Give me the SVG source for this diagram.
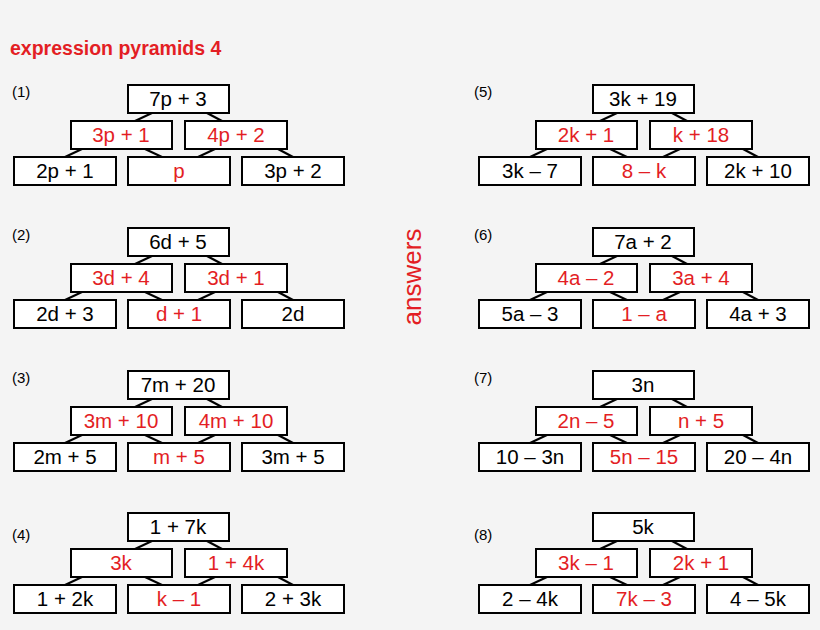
<svg xmlns="http://www.w3.org/2000/svg" width="820" height="630" viewBox="0 0 820 630">
<style>
.b{fill:#fff;stroke:#000;stroke-width:2}
.c line{stroke:#000;stroke-width:2}
text{font-family:"Liberation Sans",Arial,sans-serif;font-size:20.5px;text-anchor:middle}
.r{fill:#e31e24}.k{fill:#000}
.n{font-size:15px;text-anchor:start}
</style>
<rect width="820" height="630" fill="#f4f4f4"/>
<text x="10" y="55" style="text-anchor:start;font-weight:bold;font-size:19.5px" class="r">expression pyramids 4</text>
<text transform="translate(421,277) rotate(-90)" class="r" style="font-size:26px">answers</text>
<defs>
<g id="conn" class="c">
<line x1="152" y1="113" x2="135" y2="121"/><line x1="207" y1="113" x2="222" y2="121"/>
<line x1="82" y1="149" x2="65" y2="157"/><line x1="145" y1="149" x2="162" y2="157"/>
<line x1="215" y1="149" x2="198" y2="157"/><line x1="278" y1="149" x2="293" y2="157"/>
</g>
<g id="boxes">
<rect class="b" x="128" y="85" width="101" height="28"/>
<rect class="b" x="71" y="121" width="101" height="28"/><rect class="b" x="185" y="121" width="102" height="28"/>
<rect class="b" x="14" y="157" width="102" height="28"/><rect class="b" x="128" y="157" width="102" height="28"/><rect class="b" x="242" y="157" width="102" height="28"/>
</g>
</defs>
<g id="connectors">
<use href="#conn"/><use href="#conn" y="143"/><use href="#conn" y="286"/><use href="#conn" y="428"/>
<use href="#conn" x="465"/><use href="#conn" x="465" y="143"/><use href="#conn" x="465" y="286"/><use href="#conn" x="465" y="428"/>
</g>
<g id="p1"><use href="#boxes"/><text x="12" y="97" class="n">(1)</text>
<text x="178" y="106">7p + 3</text><text x="121" y="142" class="r">3p + 1</text><text x="236" y="142" class="r">4p + 2</text>
<text x="65" y="178">2p + 1</text><text x="179" y="178" class="r">p</text><text x="293" y="178">3p + 2</text></g>
<g id="p2" transform="translate(0,143)"><use href="#boxes"/><text x="12" y="97" class="n">(2)</text>
<text x="178" y="106">6d + 5</text><text x="121" y="142" class="r">3d + 4</text><text x="236" y="142" class="r">3d + 1</text>
<text x="65" y="178">2d + 3</text><text x="179" y="178" class="r">d + 1</text><text x="293" y="178">2d</text></g>
<g id="p3" transform="translate(0,286)"><use href="#boxes"/><text x="12" y="97" class="n">(3)</text>
<text x="178" y="106">7m + 20</text><text x="121" y="142" class="r">3m + 10</text><text x="236" y="142" class="r">4m + 10</text>
<text x="65" y="178">2m + 5</text><text x="179" y="178" class="r">m + 5</text><text x="293" y="178">3m + 5</text></g>
<g id="p4" transform="translate(0,428)"><use href="#boxes"/><text x="12" y="112" class="n">(4)</text>
<text x="178" y="106">1 + 7k</text><text x="121" y="142" class="r">3k</text><text x="236" y="142" class="r">1 + 4k</text>
<text x="65" y="178">1 + 2k</text><text x="179" y="178" class="r">k – 1</text><text x="293" y="178">2 + 3k</text></g>
<g id="p5" transform="translate(465,0)"><use href="#boxes"/><text x="9" y="97" class="n">(5)</text>
<text x="178" y="106">3k + 19</text><text x="121" y="142" class="r">2k + 1</text><text x="236" y="142" class="r">k + 18</text>
<text x="65" y="178">3k – 7</text><text x="179" y="178" class="r">8 – k</text><text x="293" y="178">2k + 10</text></g>
<g id="p6" transform="translate(465,143)"><use href="#boxes"/><text x="9" y="97" class="n">(6)</text>
<text x="178" y="106">7a + 2</text><text x="121" y="142" class="r">4a – 2</text><text x="236" y="142" class="r">3a + 4</text>
<text x="65" y="178">5a – 3</text><text x="179" y="178" class="r">1 – a</text><text x="293" y="178">4a + 3</text></g>
<g id="p7" transform="translate(465,286)"><use href="#boxes"/><text x="9" y="97" class="n">(7)</text>
<text x="178" y="106">3n</text><text x="121" y="142" class="r">2n – 5</text><text x="236" y="142" class="r">n + 5</text>
<text x="65" y="178">10 – 3n</text><text x="179" y="178" class="r">5n – 15</text><text x="293" y="178">20 – 4n</text></g>
<g id="p8" transform="translate(465,428)"><use href="#boxes"/><text x="9" y="112" class="n">(8)</text>
<text x="178" y="106">5k</text><text x="121" y="142" class="r">3k – 1</text><text x="236" y="142" class="r">2k + 1</text>
<text x="65" y="178">2 – 4k</text><text x="179" y="178" class="r">7k – 3</text><text x="293" y="178">4 – 5k</text></g>
</svg>
